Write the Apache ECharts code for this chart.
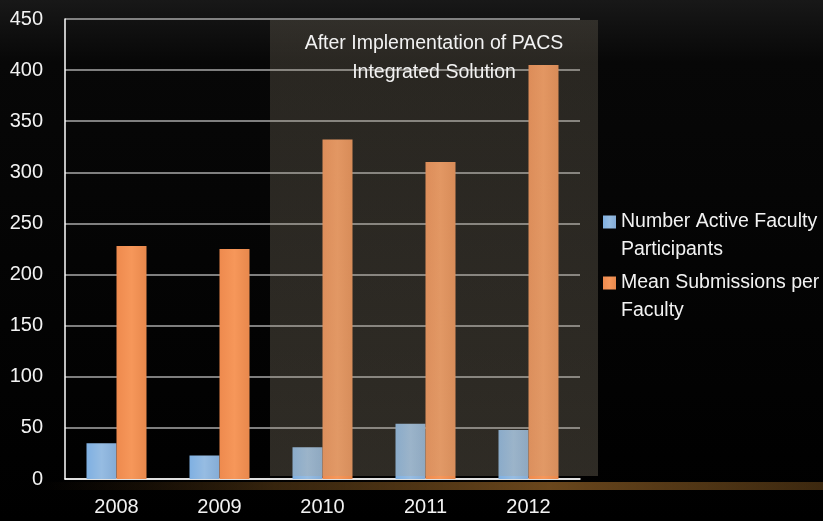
<!DOCTYPE html>
<html>
<head>
<meta charset="utf-8">
<script src="https://cdn.jsdelivr.net/npm/echarts@6/dist/echarts.min.js"></script>
<style>
html,body{margin:0;padding:0;background:#000;}
#c{width:823px;height:521px;}
</style>
</head>
<body>
<div id="c"></div>
<script>
var categories = ['2008', '2009', '2010', '2011', '2012'];
var activeFaculty = [35, 23, 31, 54, 48];
var meanSubmissions = [228, 225, 332, 310, 405];
var yTicks = [0, 50, 100, 150, 200, 250, 300, 350, 400, 450];
var seriesNames = ['Number Active Faculty\nParticipants', 'Mean Submissions per\nFaculty'];
var noteLines = ['After Implementation of PACS', 'Integrated Solution'];

var FONT = "'Liberation Sans', Arial, sans-serif";

var chart = echarts.init(document.getElementById('c'), null, {renderer: 'canvas'});

function legendFor(i, top) {
  return {
    data: [seriesNames[i]],
    orient: 'vertical',
    left: 598,
    top: top,
    icon: 'rect',
    itemWidth: 13,
    itemHeight: 13,
    itemGap: 0,
    selectedMode: false,
    formatter: function (name) { return ' \n' + name; },
    textStyle: {
      color: '#f2f2f2',
      fontFamily: FONT,
      fontSize: 19.5,
      lineHeight: 28
    }
  };
}

var option = {
  backgroundColor: {
    type: 'linear', x: 0, y: 0, x2: 0, y2: 1,
    colorStops: [
      {offset: 0, color: '#181818'},
      {offset: 0.12, color: '#070707'},
      {offset: 1, color: '#000000'}
    ]
  },
  animation: false,
  grid: {left: 65, right: 243, top: 19, bottom: 42, containLabel: false},
  legend: [legendFor(0, 175), legendFor(1, 236)],
  xAxis: {
    type: 'category',
    data: categories,
    axisLine: {lineStyle: {color: '#ffffff', width: 1.5}},
    axisTick: {show: false},
    axisLabel: {color: '#f2f2f2', fontFamily: FONT, fontSize: 20, margin: 18}
  },
  yAxis: {
    type: 'value',
    min: 0,
    max: 450,
    interval: 50,
    axisLine: {show: true, lineStyle: {color: '#ffffff', width: 1.5}},
    axisTick: {show: false},
    axisLabel: {
      color: '#f2f2f2', fontFamily: FONT, fontSize: 20, margin: 22,
      formatter: function (v) { return yTicks.indexOf(v) >= 0 ? String(v) : ''; }
    },
    splitLine: {lineStyle: {color: '#a8a8a8', width: 1.5}}
  },
  series: [
    {
      name: seriesNames[0],
      type: 'bar',
      data: activeFaculty,
      barWidth: 30,
      barGap: '0%',
      itemStyle: {
        color: {
          type: 'linear', x: 0, y: 0, x2: 1, y2: 0,
          colorStops: [
            {offset: 0, color: '#7fb0e2'},
            {offset: 0.5, color: '#96bce2'},
            {offset: 1, color: '#84acd6'}
          ]
        }
      }
    },
    {
      name: seriesNames[1],
      type: 'bar',
      data: meanSubmissions,
      barWidth: 30,
      barGap: '0%',
      itemStyle: {
        color: {
          type: 'linear', x: 0, y: 0, x2: 1, y2: 0,
          colorStops: [
            {offset: 0, color: '#ee8a4e'},
            {offset: 0.5, color: '#f6975a'},
            {offset: 1, color: '#e8884c'}
          ]
        }
      }
    }
  ]
};
chart.setOption(option);

// Overlay positioned from the axis scales
var p10 = chart.convertToPixel({gridIndex: 0}, ['2010', 450]);
var p11 = chart.convertToPixel({gridIndex: 0}, ['2011', 0]);
var p12 = chart.convertToPixel({gridIndex: 0}, ['2012', 0]);
var bw = p11[0] - p10[0];
var boxLeft = p10[0] - bw / 2 - 1;
var boxRight = p12[0] + bw / 2 + 18;
var boxTop = p10[1] + 1;
var boxBottom = p11[1] - 3;
var cx = (boxLeft + boxRight) / 2;

chart.setOption({
  graphic: [
    {
      type: 'rect', z: 10, silent: true,
      shape: {x: boxLeft, y: boxTop, width: boxRight - boxLeft, height: boxBottom - boxTop},
      style: {
        fill: {
          type: 'linear', x: 0, y: 0, x2: 0, y2: 1,
          colorStops: [
            {offset: 0, color: 'rgba(160,148,125,0.22)'},
            {offset: 1, color: 'rgba(170,158,135,0.27)'}
          ]
        }
      }
    },
    {
      type: 'rect', z: 1, silent: true,
      shape: {x: 40, y: p11[1] + 3, width: 783, height: 8},
      style: {
        fill: {
          type: 'linear', x: 0, y: 0, x2: 1, y2: 0,
          colorStops: [
            {offset: 0, color: 'rgba(90,55,20,0)'},
            {offset: 0.3, color: 'rgba(120,80,30,0.45)'},
            {offset: 0.65, color: 'rgba(150,100,40,0.7)'},
            {offset: 1, color: 'rgba(120,80,30,0.5)'}
          ]
        }
      }
    },
    {
      type: 'text', z: 11, silent: true,
      style: {
        x: cx, y: boxTop + 24,
        text: noteLines[0],
        fill: '#f2f2f2', font: '19.5px ' + FONT,
        textAlign: 'center', textVerticalAlign: 'middle'
      }
    },
    {
      type: 'text', z: 11, silent: true,
      style: {
        x: cx, y: boxTop + 53,
        text: noteLines[1],
        fill: '#f2f2f2', font: '19.5px ' + FONT,
        textAlign: 'center', textVerticalAlign: 'middle'
      }
    }
  ]
});
</script>
</body>
</html>
